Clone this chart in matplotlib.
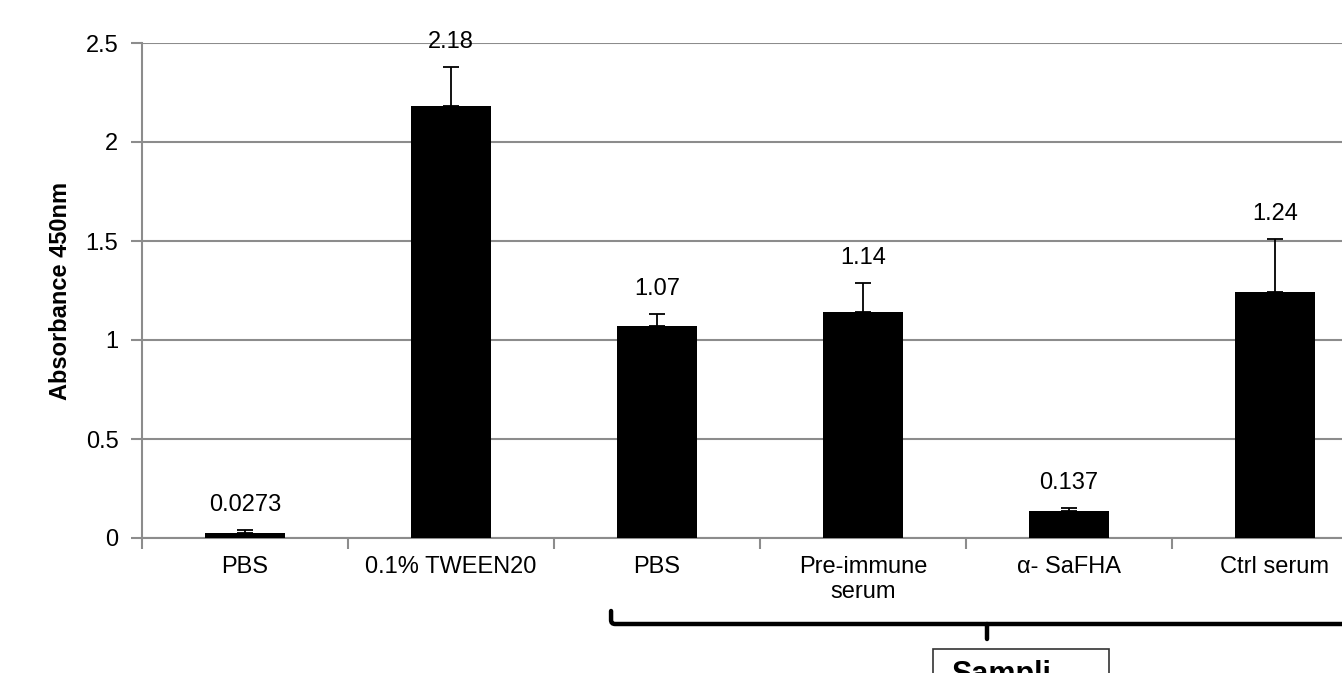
import matplotlib.pyplot as plt
import matplotlib.transforms as mtransforms
from matplotlib.path import Path
from matplotlib.patches import PathPatch, Rectangle

plt.rcParams['font.family'] = ['Liberation Sans', 'DejaVu Sans']

categories = ['PBS', '0.1% TWEEN20', 'PBS', 'Pre-immune\nserum', 'α- SaFHA', 'Ctrl serum']
values = [0.0273, 2.18, 1.07, 1.14, 0.137, 1.24]
errors = [0.012, 0.20, 0.06, 0.15, 0.013, 0.27]
labels = ['0.0273', '2.18', '1.07', '1.14', '0.137', '1.24']

W, H = 1342, 673
fig = plt.figure(figsize=(W / 100, H / 100), dpi=100)
# plot area runs past the right edge of the picture (as in the original crop)
ax = fig.add_axes([142 / W, 135 / H, 1236 / W, 495 / H])

grey = '#8c8c8c'
fs = 17
x = [i + 0.5 for i in range(len(categories))]
ax.bar(x, values, width=0.39, color='black', zorder=3)
ax.errorbar(x, values, yerr=[[0] * len(errors), errors], fmt='none',
            ecolor='black', elinewidth=1.3, capsize=5.5, capthick=1.3, zorder=4)

for xi, v, e, lab in zip(x, values, errors, labels):
    ax.annotate(lab, (xi, v + e), xytext=(0, 10), textcoords='offset points',
                ha='center', va='bottom', fontsize=fs, zorder=5)

ax.set_xlim(0, 6)
ax.set_ylim(0, 2.5)
ax.set_yticks([0, 0.5, 1, 1.5, 2, 2.5])
ax.set_yticklabels(['0', '0.5', '1', '1.5', '2', '2.5'])
ax.yaxis.grid(True, color=grey, lw=1.5, zorder=0)
ax.set_xticks(range(7))
ax.set_xticklabels([])
ax.set_xticks(x, minor=True)
ax.set_xticklabels(categories, minor=True, fontsize=fs)
ax.tick_params(axis='x', which='minor', length=0, pad=13)
ax.tick_params(axis='x', which='major', length=8, color=grey, width=1.5)
ax.tick_params(axis='y', length=8, color=grey, width=1.5, labelsize=fs, pad=9)
for s in ['top', 'right']:
    ax.spines[s].set_visible(False)
for s in ['left', 'bottom']:
    ax.spines[s].set_color(grey)
    ax.spines[s].set_linewidth(1.5)
ax.set_ylabel('Absorbance 450nm', fontsize=fs, fontweight='bold', labelpad=10)

# brace under the last four groups
tr = mtransforms.blended_transform_factory(ax.transData, ax.transAxes)
def ya(py):
    return (538 - py) / 495

xl, xc, xr = 2.277, 4.10, 6.5
r = 0.02
verts = [(xl, ya(611)), (xl, ya(620)), (xl, ya(624)), (xl + r, ya(624)), (xr, ya(624))]
codes = [Path.MOVETO, Path.LINETO, Path.CURVE3, Path.CURVE3, Path.LINETO]
ax.add_patch(PathPatch(Path(verts, codes), transform=tr, fill=False,
                       lw=3.2, color='black', clip_on=False, capstyle='round'))
ax.plot([xc, xc], [ya(624), ya(639)], transform=tr, color='black', lw=3.2,
        clip_on=False, solid_capstyle='round')

ax.add_patch(Rectangle((3.84, ya(700)), 0.855, ya(649) - ya(700), transform=tr,
                       fill=False, edgecolor='#333333', lw=1.2, clip_on=False))
ax.text(3.93, ya(660), 'Sampli', transform=tr, fontsize=22, fontweight='bold',
        ha='left', va='top', clip_on=False)

fig.savefig('out.png', dpi=100)
